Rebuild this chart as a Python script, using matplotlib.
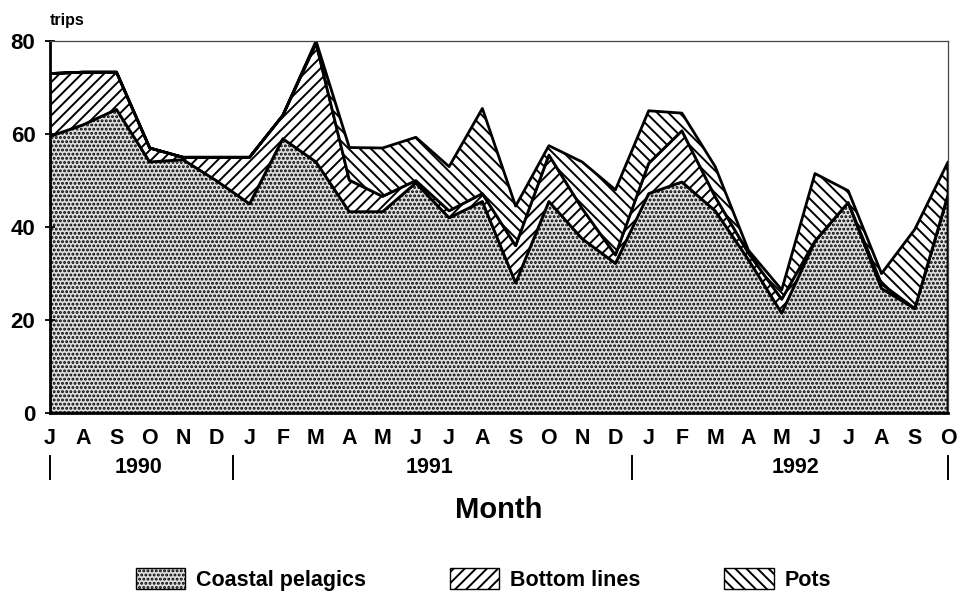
import matplotlib.pyplot as plt
from matplotlib.patches import Patch
import numpy as np

plt.rcParams['font.family'] = ['Liberation Sans', 'DejaVu Sans']
plt.rcParams['font.weight'] = 'bold'
plt.rcParams['hatch.linewidth'] = 1.4

months = ['J', 'A', 'S', 'O', 'N', 'D',
          'J', 'F', 'M', 'A', 'M', 'J', 'J', 'A', 'S', 'O', 'N', 'D',
          'J', 'F', 'M', 'A', 'M', 'J', 'J', 'A', 'S', 'O']
years = ['1990', '1991', '1992']

# trips per month, Jul 1990 - Oct 1992
coastal = [59.5, 62, 65.3, 54, 54.5, 50,
           45, 59, 54, 43.3, 43.3, 49.5, 42, 45.5, 28, 45.5, 37.5, 32.2,
           47.2, 49.7, 43.5, 33, 21.5, 37, 45.3, 26.8, 22.5, 47]
bottom_lines = [13.5, 11.3, 8, 3, 0.5, 5,
                10, 5, 25.5, 6.8, 3.3, 0.5, 1.5, 1.7, 8, 10, 6.5, 1.8,
                6.5, 11, 3, 1.4, 3, 0, 0, 1, 0, 0]
pots = [0, 0, 0, 0, 0, 0,
        0, 0, 0.5, 7, 10.4, 9.3, 9.5, 18.3, 8.5, 2, 10, 14,
        11.3, 3.8, 6.5, 0.6, 2, 14.5, 2.5, 2.2, 17, 7]

x = np.arange(len(months))
c1 = np.array(coastal)
c2 = c1 + np.array(bottom_lines)
c3 = c2 + np.array(pots)

fig = plt.figure(figsize=(9.61, 5.91), dpi=100)
ax = fig.add_axes([0.052, 0.301, 0.9345, 0.6296])

dots = '#dedede'
ax.fill_between(x, 0, c1, facecolor=dots, edgecolor='black',
                hatch='....', linewidth=2.0)
ax.fill_between(x, c1, c2, facecolor='white', edgecolor='black',
                hatch='///', linewidth=2.0)
ax.fill_between(x, c2, c3, facecolor='white', edgecolor='black',
                hatch='\\\\\\', linewidth=2.0)

ax.set_xlim(0, len(months) - 1)
ax.set_ylim(0, 80)
ax.set_yticks([0, 20, 40, 60, 80])
ax.tick_params(axis='y', direction='inout', length=7, width=1.3,
               labelsize=16, pad=7)
ax.set_xticks(x)
ax.set_xticklabels(months, fontsize=15.5)
ax.tick_params(axis='x', length=0, pad=11)

for s in ['top', 'right']:
    ax.spines[s].set_linewidth(0.9)
    ax.spines[s].set_color('#444444')
for s in ['left', 'bottom']:
    ax.spines[s].set_linewidth(2.0)

ax.text(0.0, 1.035, 'trips', transform=ax.transAxes, fontsize=11.5,
        ha='left', va='bottom')

# year bands below the month letters
tr = ax.get_xaxis_transform()
for xs in [0, 5.5, 17.5, 27]:
    ax.plot([xs, xs], [-0.115, -0.178], color='black', lw=1.4,
            transform=tr, clip_on=False)
for xp, yr in zip([2.65, 11.4, 22.4], years):
    ax.text(xp, -0.147, yr, transform=tr, fontsize=15.5,
            ha='center', va='center')

ax.text(0.5, -0.26, 'Month', transform=ax.transAxes, fontsize=21,
        ha='center', va='center')

handles = [Patch(facecolor=dots, edgecolor='black', hatch='....'),
           Patch(facecolor='white', edgecolor='black', hatch='///'),
           Patch(facecolor='white', edgecolor='black', hatch='\\\\\\')]
fig.legend(handles, ['Coastal pelagics', 'Bottom lines', 'Pots'],
           loc='lower center', bbox_to_anchor=(0.503, -0.032), ncol=3,
           frameon=False, fontsize=15.5, handlelength=2.3, handleheight=1.1,
           columnspacing=3.9, handletextpad=0.5)

fig.savefig('out.png', dpi=100)
